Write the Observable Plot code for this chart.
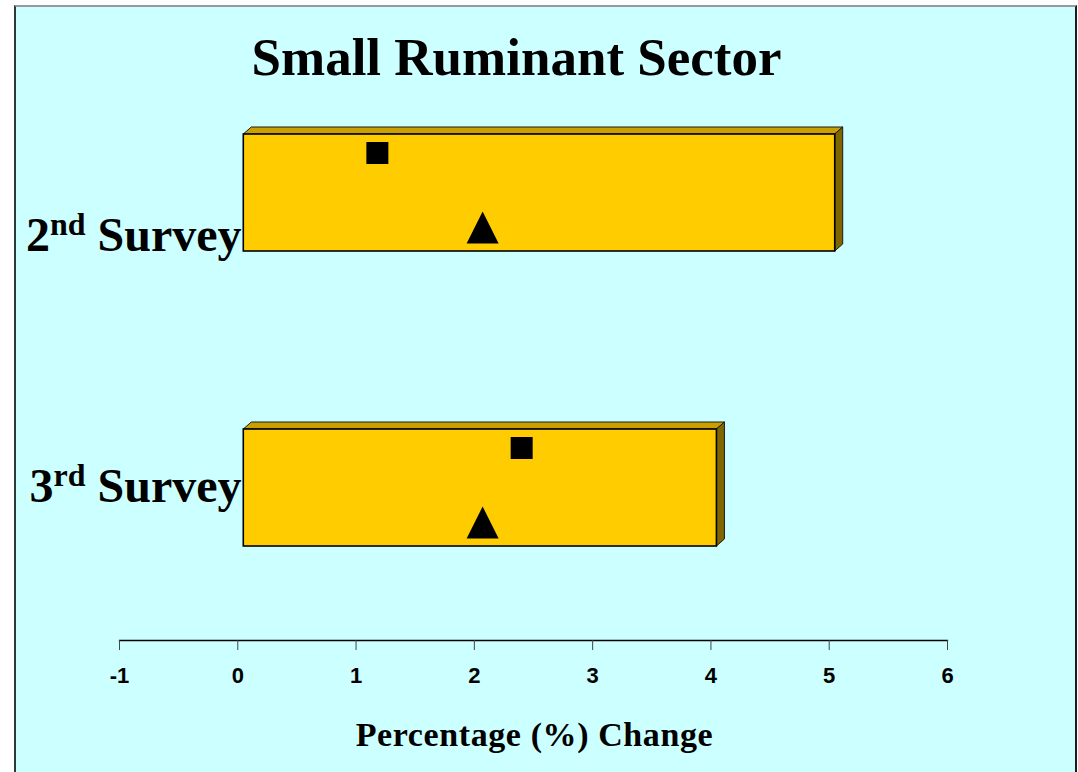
<!DOCTYPE html>
<html>
<head>
<meta charset="utf-8">
<script src="https://cdn.jsdelivr.net/npm/d3@7"></script>
<script src="https://cdn.jsdelivr.net/npm/@observablehq/plot@0.6"></script>
<style>
  html, body { margin: 0; padding: 0; background: #fff; width: 1078px; height: 772px; overflow: hidden; }
  #panel {
    position: absolute; left: 14px; top: 5px; width: 1059px; height: 800px;
    background: #CCFFFF;
    border-left: 2px solid #2b3b3b; border-top: 2px solid #9a9a9a; border-right: 2px solid #1c1c1c;
  }
  #title {
    position: absolute; left: 0; top: 31px; width: 1033px; text-align: center;
    font: bold 53px/53px "Liberation Serif", "Times New Roman", serif; color: #000;
  }
  #chart { position: absolute; left: 0; top: 90px; }
</style>
</head>
<body>
<div id="panel"></div>
<div id="title">Small Ruminant Sector</div>
<div id="chart"></div>
<script>
// Survey rounds (top to bottom)
const surveys = ["2nd Survey", "3rd Survey"];
// Bar length: percentage change per survey
const barValues = [5, 4];
// Square markers
const squareValues = [1.18, 2.40];
// Triangle markers
const triangleValues = [2.07, 2.07];
// Axis ticks and title
const xTicks = [-1, 0, 1, 2, 3, 4, 5, 6];
const xTitle = "Percentage (%) Change";

const rows = surveys.map((survey, i) => ({
  survey,
  bar: barValues[i],
  square: squareValues[i],
  triangle: triangleValues[i]
}));

const SERIF = "Liberation Serif, Times New Roman, serif";
const SANS = "Liberation Sans, Arial, sans-serif";

// marker shapes: r is the half-size in pixels
const squareSymbol = {
  draw(ctx, size) { const s = Math.sqrt(size / Math.PI); ctx.rect(-s, -s, 2 * s, 2 * s); }
};
const triangleSymbol = {
  draw(ctx, size) {
    const s = Math.sqrt(size / Math.PI);
    ctx.moveTo(0, -s); ctx.lineTo(s, s); ctx.lineTo(-s, s); ctx.closePath();
  }
};

// bar styling: front face shift and 3D depth
const BAR_SHIFT = 6, DEPTH_X = 8, DEPTH_Y = 7;
// baseline offset of each row label from its band centre
const labelDy = [57.6, 13.6];

const plot = Plot.plot({
  width: 1078,
  height: 682,
  marginLeft: 119,
  marginRight: 131,
  marginTop: 5,
  marginBottom: 132,
  style: { background: "transparent", overflow: "visible", fontFamily: SANS, fontSize: "22px", fontWeight: "bold", color: "#000" },
  x: { domain: [-1, 6] },
  y: { domain: surveys, paddingInner: 0.6047, paddingOuter: 0.223, align: 0.295, axis: null },
  marks: [
    Plot.frame({ anchor: "bottom", stroke: "#000", strokeWidth: 1.3 }),
    Plot.axisX({
      ticks: xTicks, tickSize: 10, tickPadding: 17, stroke: "#444",
      tickFormat: d => String(d), label: null,
      fontFamily: SANS, fontSize: 22, fontWeight: "bold", fill: "#000"
    }),
    Plot.barX(rows, { x: "bar", y: "survey", fill: "#FFCC00", stroke: "#000", strokeWidth: 1.6, dx: BAR_SHIFT }),
    Plot.dot(rows, { x: "square", y: "survey", symbol: squareSymbol, r: 11, fill: "#000", dy: -40 }),
    Plot.dot(rows, { x: "triangle", y: "survey", symbol: triangleSymbol, r: 16, fill: "#000", dy: 34.5 }),
    ...surveys.map((s, i) => Plot.text([s], {
      y: d => d, text: d => d, frameAnchor: "left", textAnchor: "end", lineAnchor: "bottom",
      dx: 122, dy: labelDy[i], fontFamily: SERIF, fontSize: 48, fontWeight: "bold", fill: "#000"
    })),
    Plot.text([xTitle], {
      text: d => d, frameAnchor: "bottom", lineAnchor: "bottom", dx: 1, dy: 105.7,
      fontFamily: SERIF, fontSize: 34, fontWeight: "bold", fill: "#000"
    })
  ]
});

document.getElementById("chart").appendChild(plot);

const svg = d3.select(plot);
const xs = plot.scale("x"), ys = plot.scale("y");

// top and side faces of each bar, drawn behind the front faces
const faces = svg.insert("g", 'g[aria-label="bar"]').attr("aria-label", "bar depth");
rows.forEach(d => {
  const left = xs.apply(0) + BAR_SHIFT, right = xs.apply(d.bar) + BAR_SHIFT;
  const top = ys.apply(d.survey), bottom = top + ys.bandwidth;
  faces.append("polygon")
    .attr("points", [[left, top], [left + DEPTH_X, top - DEPTH_Y], [right + DEPTH_X, top - DEPTH_Y], [right, top]].join(" "))
    .attr("fill", "#C9A000").attr("stroke", "#1a1a1a").attr("stroke-width", 1).attr("stroke-linejoin", "round");
  faces.append("polygon")
    .attr("points", [[right, top], [right + DEPTH_X, top - DEPTH_Y], [right + DEPTH_X, bottom - DEPTH_Y], [right, bottom]].join(" "))
    .attr("fill", "#806600").attr("stroke", "#1a1a1a").attr("stroke-width", 1).attr("stroke-linejoin", "round");
});

const tickStrings = new Set(xTicks.map(String));
svg.selectAll("text").each(function () {
  const t = this.textContent;
  // ordinal suffixes of the row labels as superscripts
  const m = /^(\d+)(st|nd|rd|th) (.+)$/.exec(t);
  if (m && !this.querySelector("tspan")) {
    const el = d3.select(this).text(null);
    el.append("tspan").text(m[1]);
    el.append("tspan").attr("font-size", 32).attr("dy", -16).text(m[2]);
    el.append("tspan").attr("dy", 16).text(" " + m[3]);
  }
  if (t === xTitle) d3.select(this).attr("letter-spacing", 0.6);
  // tick labels in bold sans
  if (tickStrings.has(t)) {
    d3.select(this).style("font-size", "22px").style("font-weight", "bold").style("font-family", SANS);
  }
});
</script>
</body>
</html>
